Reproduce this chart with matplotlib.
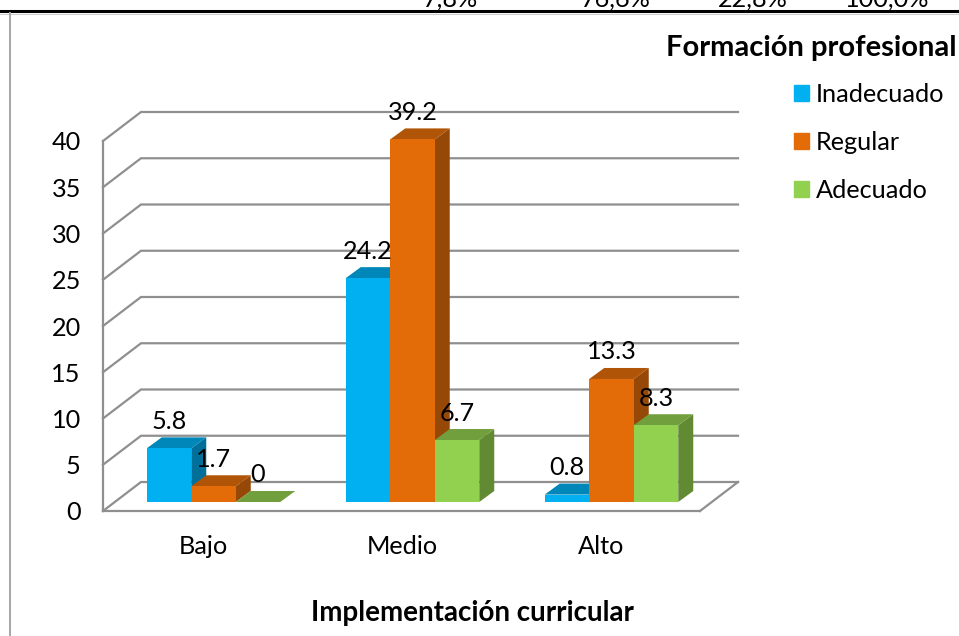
import matplotlib
matplotlib.use('Agg')
import matplotlib.pyplot as plt
from matplotlib.lines import Line2D
from matplotlib.patches import Polygon

plt.rcParams['font.family'] = ['Lato', 'DejaVu Sans']
plt.rcParams['font.size'] = 18.2

# data
categorias = ['Bajo', 'Medio', 'Alto']
inadecuado = [5.8, 24.2, 0.8]
regular = [1.7, 39.2, 13.3]
adecuado = [0, 6.7, 8.3]
y_ticks = [0, 5, 10, 15, 20, 25, 30, 35, 40]
nombres = ['Inadecuado', 'Regular', 'Adecuado']
fila_cortada = ['7,8%', '76,6%', '22,8%', '100,0%']

W, H = 959, 636
# frontal wall of the 3D box, in pixels
left, right, top, bottom = 103, 700, 141, 511
px_y = (bottom - top) / 40.0  # pixels per unit
px_x = 199.0  # pixels per category
cx0 = 213.5  # centre of first category

fig = plt.figure(figsize=(W / 100, H / 100), dpi=100)
ax = fig.add_axes([left / W, 1 - bottom / H, (right - left) / W, (bottom - top) / H])
ax.set_xlim((left - cx0) / px_x, (right - cx0) / px_x)
ax.set_ylim(0, 40)

# depth offsets in data units
box_dx, box_dy = 38 / px_x, 29 / px_y
bar_dx, bar_dy = 15 / px_x, 11 / px_y
base = 9 / px_y
bar_w = 44.5 / px_x
grid_c = '#8f8f8f'
x0, x1 = ax.get_xlim()

for v in y_ticks:
    ax.plot([x0, x0 + box_dx, x1 + box_dx], [v, v + box_dy, v + box_dy],
            color=grid_c, lw=1.6, clip_on=False, zorder=1, solid_joinstyle='miter')
ax.plot([x1, x1 + box_dx], [0, box_dy], color=grid_c, lw=1.6, clip_on=False, zorder=1)

series = [inadecuado, regular, adecuado]
front = ['#00B0F0', '#E36C09', '#92D050']
tops = ['#0087B9', '#B05507', '#729F3E']
sides = ['#00709A', '#964806', '#628A33']

z = 2
for i in range(len(categorias)):
    for j, s in enumerate(series):
        xl = i + (j - 1.5) * bar_w
        xr = xl + bar_w
        h = base + s[i]
        ax.add_patch(Polygon([(xr, base), (xr + bar_dx, base + bar_dy), (xr + bar_dx, h + bar_dy), (xr, h)],
                             fc=sides[j], ec='none', clip_on=False, zorder=z))
        ax.add_patch(Polygon([(xl, h), (xl + bar_dx, h + bar_dy), (xr + bar_dx, h + bar_dy), (xr, h)],
                             fc=tops[j], ec='none', clip_on=False, zorder=z))
        ax.bar(xl, s[i], bar_w, bottom=base, align='edge', color=front[j], clip_on=False, zorder=z)
        z += 1

for j, s in enumerate(series):
    for i, v in enumerate(s):
        xc = i + (j - 1) * bar_w
        ax.text(xc, base + v + 27 / px_y, str(v), ha='center', va='center', color='black', zorder=50)

for sp in ['top', 'right']:
    ax.spines[sp].set_visible(False)
for sp in ['left', 'bottom']:
    ax.spines[sp].set_color(grid_c)
    ax.spines[sp].set_linewidth(1.6)
ax.patch.set_alpha(0)
ax.set_yticks(y_ticks)
ax.set_xticks([i - 10 / px_x for i in range(len(categorias))])
ax.set_xticklabels(categorias)
ax.tick_params(axis='y', length=0, pad=16)
ax.tick_params(axis='x', length=0, pad=17)

handles = [plt.Rectangle((0, 0), 1, 1, color=c) for c in front]
fig.legend(handles, nombres, loc='upper left', bbox_to_anchor=(794 / W, 1 - 83 / H), frameon=False,
           handlelength=0.59, handleheight=0.59, handletextpad=0.27, labelspacing=0.98,
           borderpad=0, borderaxespad=0)

fig.text(957 / W, 1 - 48 / H, 'Formación profesional', ha='right', va='center', fontweight='bold', fontsize=21)
fig.text(472 / W, 1 - 613 / H, 'Implementación curricular', ha='center', va='center', fontweight='bold', fontsize=20)

# page leftovers: clipped table row, table rule and chart frame
for xp, t in zip([450, 616, 753, 887], fila_cortada):
    fig.text(xp / W, 1 - 7 / H, t, ha='center', va='baseline')
fig.add_artist(Line2D([0, 1], [1 - 11 / H, 1 - 11 / H], color='black', lw=2.2))
fig.add_artist(Line2D([0, 1], [1 - 13.5 / H, 1 - 13.5 / H], color='#cfcfcf', lw=0.8))
fig.add_artist(Line2D([9.5 / W, 9.5 / W], [0, 1 - 13 / H], color='#a6a6a6', lw=1.4))

fig.savefig('out.png', dpi=100)
